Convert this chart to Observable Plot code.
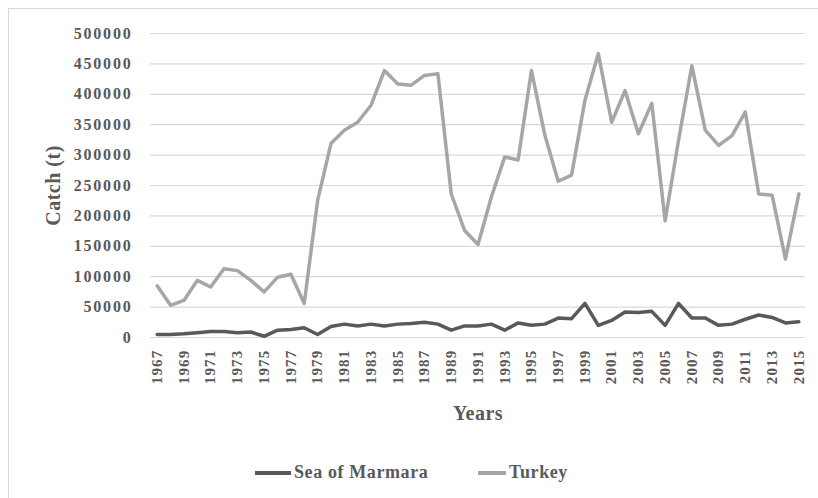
<!DOCTYPE html>
<html>
<head>
<meta charset="utf-8">
<script src="https://cdn.jsdelivr.net/npm/d3@7"></script>
<script src="https://cdn.jsdelivr.net/npm/@observablehq/plot@0.6"></script>
<style>
  html, body { margin: 0; padding: 0; background: #fff; width: 818px; height: 498px; overflow: hidden; }
  #frame { position: absolute; left: 8px; top: 8px; width: 840px; height: 520px; border: 1px solid #d9d9d9; box-sizing: border-box; }
  #chart { position: absolute; left: 0; top: 0; }
  #legend { position: absolute; left: 0; top: 440px; width: 818px; height: 58px; font-family: "Liberation Serif", serif; font-weight: bold; font-size: 18px; color: #595959; }
  .item { position: absolute; top: 22px; display: flex; align-items: center; letter-spacing: 0.6px; }
  .sw { display: inline-block; width: 36px; height: 4px; margin-right: 3px; }
</style>
</head>
<body>
<div id="frame"></div>
<div id="chart"></div>
<div id="legend"></div>
<script>
const years = [1967,1968,1969,1970,1971,1972,1973,1974,1975,1976,1977,1978,1979,1980,1981,1982,1983,1984,1985,1986,1987,1988,1989,1990,1991,1992,1993,1994,1995,1996,1997,1998,1999,2000,2001,2002,2003,2004,2005,2006,2007,2008,2009,2010,2011,2012,2013,2014,2015];
const turkey = [85000,53000,61000,94000,83000,113000,110000,94000,75000,99000,104000,56000,225000,319000,341000,354000,382000,439000,417000,415000,431000,434000,236000,176000,153000,231000,297000,292000,439000,333000,257000,267000,390000,467000,354000,406000,335000,385000,192000,324000,447000,341000,316000,332000,371000,236000,234000,129000,236000];
const marmara = [5000,5000,6000,8000,10000,10000,8000,9000,2000,12000,13000,16000,5000,18000,22000,19000,22000,19000,22000,23000,25000,22000,12000,19000,19000,22000,12000,24000,20000,22000,32000,31000,56000,20000,28000,42000,41000,43000,20000,56000,32000,32000,20000,22000,30000,37000,33000,24000,26000];
const seriesNames = ["Sea of Marmara", "Turkey"];
const seriesColors = ["#595959", "#a6a6a6"];
const yTicks = [0,50000,100000,150000,200000,250000,300000,350000,400000,450000,500000];
const xTicks = years.filter((d, i) => i % 2 === 0);

const rows = [];
years.forEach((y, i) => {
  rows.push({year: y, value: marmara[i], series: seriesNames[0]});
  rows.push({year: y, value: turkey[i], series: seriesNames[1]});
});

const font = "'Liberation Serif', serif";
const chart = Plot.plot({
  width: 818,
  height: 440,
  marginTop: 33,
  marginBottom: 103,
  marginLeft: 150,
  marginRight: 13,
  style: {fontFamily: font, background: "transparent", color: "#595959"},
  x: {domain: [1966.5, 2015.5]},
  y: {domain: [0, 500000]},
  color: {domain: seriesNames, range: seriesColors},
  marks: [
    Plot.gridY(yTicks, {stroke: "#d9d9d9", strokeOpacity: 1, strokeWidth: 1.2}),
    Plot.axisY({ticks: yTicks, tickFormat: d3.format("d"), tickSize: 0, tickPadding: 18,
      fontSize: 16, fontWeight: "bold", fill: "#595959",
      label: "Catch (t)", labelAnchor: "center", labelArrow: "none", labelOffset: 105}),
    Plot.axisX({ticks: xTicks, tickFormat: d3.format("d"), tickSize: 0, tickPadding: 12, tickRotate: -90,
      fontSize: 15, fontWeight: "bold", fill: "#595959",
      label: "Years", labelAnchor: "center", labelArrow: "none", labelOffset: 82}),
    Plot.line(rows.filter(d => d.series === seriesNames[1]), {x: "year", y: "value", stroke: "series", strokeWidth: 3.5}),
    Plot.line(rows.filter(d => d.series === seriesNames[0]), {x: "year", y: "value", stroke: "series", strokeWidth: 3.5})
  ]
});
document.getElementById("chart").appendChild(chart);

// style axis labels
d3.select(chart).selectAll("g[aria-label='y-axis label'] text, g[aria-label='x-axis label'] text")
  .style("font-size", "20px").style("font-weight", "bold").style("fill", "#595959").style("letter-spacing", "0.5px");
d3.select(chart).selectAll("g[aria-label='y-axis tick label'] text")
  .style("letter-spacing", "1.8px");
d3.select(chart).selectAll("g[aria-label='x-axis tick label'] text")
  .style("letter-spacing", "1.2px");

// legend
const legend = document.getElementById("legend");
const positions = [255, 478];
seriesNames.forEach((name, i) => {
  const item = document.createElement("div");
  item.className = "item";
  item.style.left = positions[i] + "px";
  item.innerHTML = `<span class="sw" style="background:${seriesColors[i]};width:${i===0?36:28}px"></span><span>${name}</span>`;
  legend.appendChild(item);
});
</script>
</body>
</html>
